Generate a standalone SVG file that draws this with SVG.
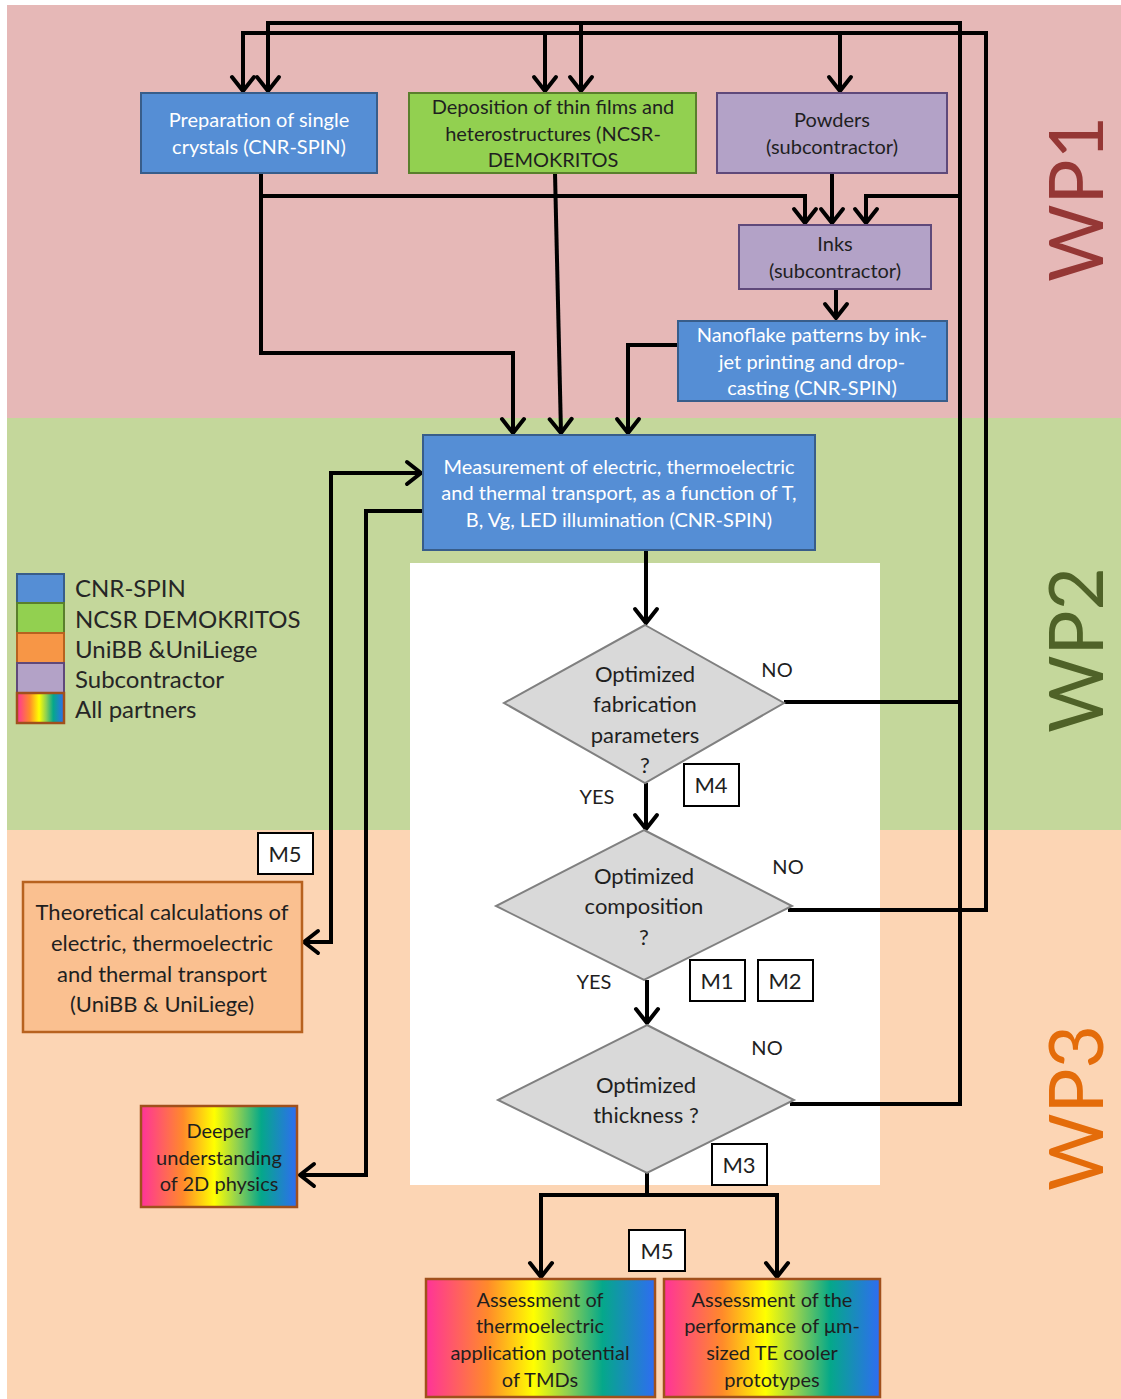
<svg xmlns="http://www.w3.org/2000/svg" width="1121" height="1399" viewBox="0 0 1121 1399">
<defs>
<style>
text{font-family:Lato,"Open Sans","Liberation Sans",sans-serif;text-anchor:middle;fill:#1f1f1f}
.w{fill:#ffffff}
.blue{fill:#558ED5;stroke:#385D8A;stroke-width:2}
.green{fill:#92D050;stroke:#5A7F2C;stroke-width:2}
.purple{fill:#B3A2C7;stroke:#5F497A;stroke-width:2}
.orange{fill:#FAC090;stroke:#B7621F;stroke-width:2.5}
.rain{fill:url(#rainbow);stroke:#A0501C;stroke-width:2.5}
.dia{fill:#D9D9D9;stroke:#808080;stroke-width:2}
.ms{fill:#ffffff;stroke:#000;stroke-width:2}
.c{fill:none;stroke:#000;stroke-width:4;stroke-linejoin:miter}
.a{marker-end:url(#arr)}
.t20{font-size:20px}
.t22{font-size:22px}
.wp{font-size:75px;text-anchor:middle}
.leg{font-size:24px;text-anchor:start;fill:#262626}
</style>
<linearGradient id="rainbow" x1="0" y1="0" x2="1" y2="0">
<stop offset="0" stop-color="#FF3399"/>
<stop offset="0.27" stop-color="#FF8A2A"/>
<stop offset="0.47" stop-color="#FFFF00"/>
<stop offset="0.62" stop-color="#8ED052"/>
<stop offset="0.77" stop-color="#05A88A"/>
<stop offset="1" stop-color="#2F6CF2"/>
</linearGradient>
<marker id="arr" markerUnits="userSpaceOnUse" viewBox="-20 -14 24 28" refX="0" refY="0" markerWidth="24" markerHeight="28" orient="auto-start-reverse">
<path d="M-14,-11 L0,0 L-14,11" fill="none" stroke="#000" stroke-width="4" stroke-linecap="round"/>
</marker>
</defs>

<g id="background">
<rect x="0" y="0" width="1121" height="1399" fill="#ffffff"/>
<rect x="7" y="5" width="1114" height="413" fill="#E6B8B7"/>
<rect x="7" y="418" width="1114" height="412" fill="#C4D79B"/>
<rect x="7" y="830" width="1114" height="569" fill="#FCD5B4"/>
<rect x="410" y="563" width="470" height="622" fill="#ffffff"/>
</g>

<g id="wp-labels">
<text class="wp" style="fill:#953735" transform="translate(1103,199) rotate(-90)">WP1</text>
<text class="wp" style="fill:#4F6228" transform="translate(1103,650) rotate(-90)">WP2</text>
<text class="wp" style="fill:#E46C0A" transform="translate(1103,1108) rotate(-90)">WP3</text>
</g>

<g id="legend">
<rect x="17" y="574" width="47" height="29" class="blue"/>
<rect x="17" y="603" width="47" height="30" class="green"/>
<rect x="17" y="633" width="47" height="30" fill="#F79646" stroke="#B7621F" stroke-width="2"/>
<rect x="17" y="663" width="47" height="30" class="purple"/>
<rect x="17" y="693" width="47" height="30" class="rain"/>
<text class="leg" x="75" y="597">CNR-SPIN</text>
<text class="leg" x="75" y="628">NCSR DEMOKRITOS</text>
<text class="leg" x="75" y="658">UniBB &amp;UniLiege</text>
<text class="leg" x="75" y="688">Subcontractor</text>
<text class="leg" x="75" y="718">All partners</text>
</g>

<g id="connectors">
<path class="c a" d="M790,1104 H960 V23 H268 V91"/>
<path class="c a" d="M581,23 V91"/>
<path class="c a" d="M960,196 H866 V223"/>
<path class="c" d="M784,702 H960"/>
<path class="c a" d="M788,910 H986 V33 H243 V91"/>
<path class="c a" d="M545,33 V91"/>
<path class="c a" d="M840,33 V91"/>
<path class="c a" d="M261,173 V353 H513 V433"/>
<path class="c a" d="M261,196 H805 V223"/>
<path class="c a" d="M555,173 L561,433"/>
<path class="c a" d="M832,173 V223"/>
<path class="c a" d="M836,289 V318"/>
<path class="c a" d="M678,345 H628 V433"/>
<path class="c a" d="M304,942 H331 V473 H421" style="marker-start:url(#arr)"/>
<path class="c a" d="M423,511 H366 V1175 H300"/>
<path class="c a" d="M646,550 V623"/>
<path class="c a" d="M646,783 V829"/>
<path class="c a" d="M647,980 V1023"/>
<path class="c" d="M647,1173 V1195"/>
<path class="c a" d="M541,1195 V1277"/>
<path class="c a" d="M777,1195 V1277"/>
<path class="c" d="M539,1195 H779"/>
</g>

<g id="n-prep">
<rect x="141" y="93" width="236" height="80" class="blue"/>
<text class="t20 w" x="259" y="127">Preparation of single</text>
<text class="t20 w" x="259" y="154">crystals (CNR-SPIN)</text>
</g>
<g id="n-depo">
<rect x="409" y="93" width="287" height="80" class="green"/>
<text class="t20" x="553" y="114">Deposition of thin films and</text>
<text class="t20" x="553" y="141">heterostructures  (NCSR-</text>
<text class="t20" x="553" y="167">DEMOKRITOS</text>
</g>
<g id="n-powders">
<rect x="717" y="93" width="230" height="80" class="purple"/>
<text class="t20" x="832" y="127">Powders</text>
<text class="t20" x="832" y="154">(subcontractor)</text>
</g>
<g id="n-inks">
<rect x="739" y="225" width="192" height="64" class="purple"/>
<text class="t20" x="835" y="251">Inks</text>
<text class="t20" x="835" y="278">(subcontractor)</text>
</g>
<g id="n-nano">
<rect x="678" y="321" width="269" height="80" class="blue"/>
<text class="t20 w" x="812" y="342">Nanoflake patterns by ink-</text>
<text class="t20 w" x="812" y="369">jet printing and drop-</text>
<text class="t20 w" x="812" y="395">casting (CNR-SPIN)</text>
</g>
<g id="n-meas">
<rect x="423" y="435" width="392" height="115" class="blue"/>
<text class="t20 w" x="619" y="474">Measurement of electric, thermoelectric</text>
<text class="t20 w" x="619" y="500">and thermal transport, as a function of T,</text>
<text class="t20 w" x="619" y="527">B, Vg, LED illumination (CNR-SPIN)</text>
</g>
<g id="n-d1">
<polygon points="645,625 784,703 645,783 504,703" class="dia"/>
<text class="t22" x="645" y="682">Optimized</text>
<text class="t22" x="645" y="712">fabrication</text>
<text class="t22" x="645" y="743">parameters</text>
<text class="t22" x="645" y="773">?</text>
</g>
<g id="n-d2">
<polygon points="644,830 792,906 644,980 496,906" class="dia"/>
<text class="t22" x="644" y="884">Optimized</text>
<text class="t22" x="644" y="914">composition</text>
<text class="t22" x="644" y="945">?</text>
</g>
<g id="n-d3">
<polygon points="647,1025 794,1100 647,1173 498,1100" class="dia"/>
<text class="t22" x="646" y="1093">Optimized</text>
<text class="t22" x="646" y="1123">thickness ?</text>
</g>
<g id="n-theo">
<rect x="23" y="882" width="279" height="150" class="orange"/>
<text class="t22" x="162" y="920">Theoretical calculations of</text>
<text class="t22" x="162" y="951">electric, thermoelectric</text>
<text class="t22" x="162" y="982">and thermal transport</text>
<text class="t22" x="162" y="1012">(UniBB &amp; UniLiege)</text>
</g>
<g id="n-deeper">
<rect x="141" y="1106" width="156" height="101" class="rain"/>
<text class="t20" x="219" y="1138">Deeper</text>
<text class="t20" x="219" y="1165">understanding</text>
<text class="t20" x="219" y="1191">of 2D physics</text>
</g>
<g id="n-assess1">
<rect x="426" y="1279" width="229" height="118" class="rain"/>
<text class="t20" x="540" y="1307">Assessment of</text>
<text class="t20" x="540" y="1333">thermoelectric</text>
<text class="t20" x="540" y="1360">application potential</text>
<text class="t20" x="540" y="1387">of TMDs</text>
</g>
<g id="n-assess2">
<rect x="664" y="1279" width="216" height="118" class="rain"/>
<text class="t20" x="772" y="1307">Assessment of the</text>
<text class="t20" x="772" y="1333">performance of μm-</text>
<text class="t20" x="772" y="1360">sized TE cooler</text>
<text class="t20" x="772" y="1387">prototypes</text>
</g>

<g id="labels">
<text class="t20" x="777" y="677">NO</text>
<text class="t20" x="597" y="804">YES</text>
<text class="t20" x="788" y="874">NO</text>
<text class="t20" x="594" y="989">YES</text>
<text class="t20" x="767" y="1055">NO</text>
</g>

<g id="milestones">
<rect x="684" y="764" width="55" height="42" class="ms"/>
<text class="t22" x="711" y="793">M4</text>
<rect x="258" y="833" width="55" height="41" class="ms"/>
<text class="t22" x="285" y="862">M5</text>
<rect x="690" y="960" width="55" height="41" class="ms"/>
<text class="t22" x="717" y="989">M1</text>
<rect x="758" y="960" width="55" height="41" class="ms"/>
<text class="t22" x="785" y="989">M2</text>
<rect x="712" y="1144" width="55" height="41" class="ms"/>
<text class="t22" x="739" y="1173">M3</text>
<rect x="629" y="1230" width="56" height="41" class="ms"/>
<text class="t22" x="657" y="1259">M5</text>
</g>
</svg>
